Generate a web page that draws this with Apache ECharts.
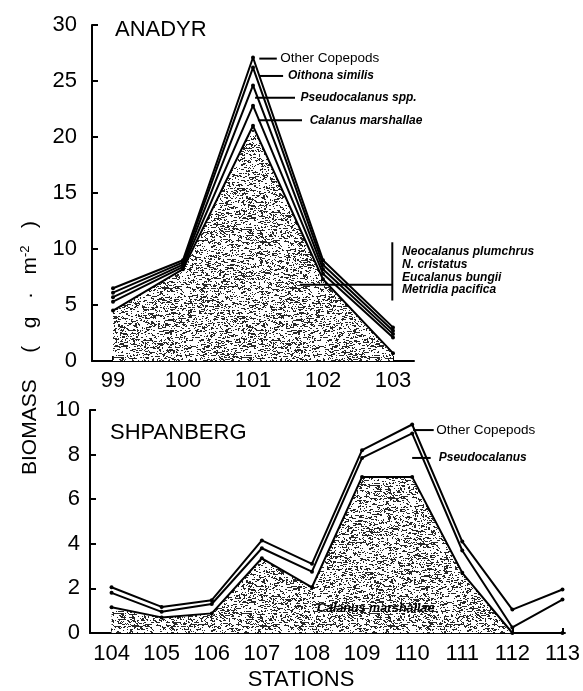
<!DOCTYPE html>
<html>
<head>
<meta charset="utf-8">
<script src="https://cdn.jsdelivr.net/npm/echarts@6/dist/echarts.min.js"></script>
<style>
  html, body { margin: 0; padding: 0; background: #fff; }
  #chart { width: 583px; height: 691px; }
</style>
</head>
<body>
<div id="chart"></div>
<script>
// ---- Anadyr transect (stations 99-103), biomass g·m-2 per taxon ----
const stationsA = [99, 100, 101, 102, 103];
const neocalanusA = [4.5, 8.2, 21.0, 7.3, 0.7];   // Neocalanus plumchrus, N. cristatus, Eucalanus bungii, Metridia pacifica
const calanusA    = [0.8, 0.2, 1.8, 0.5, 1.4];    // Calanus marshallae
const pseudoA     = [0.4, 0.2, 1.8, 0.4, 0.3];    // Pseudocalanus spp.
const oithonaA    = [0.4, 0.2, 1.6, 0.4, 0.3];    // Oithona similis
const otherA      = [0.4, 0.2, 0.9, 0.4, 0.3];    // Other copepods

// ---- Shpanberg transect (stations 104-113) ----
const stationsS = [104, 105, 106, 107, 108, 109, 110, 111, 112, 113];
const calanusS = [1.15, 0.7, 0.88, 3.35, 2.05, 7.0, 7.0, 2.7, 0, 0];
const pseudoS  = [0.65, 0.25, 0.42, 0.45, 0.7, 0.85, 1.95, 1.0, 0.25, 1.5];
const otherS   = [0.25, 0.22, 0.17, 0.35, 0.35, 0.35, 0.4, 0.4, 0.8, 0.45];

// y-axis ranges / tick steps
const yMaxA = 30, yStepA = 5;
const yMaxS = 10, yStepS = 2;

const FONT = 'Liberation Sans';

// Stippled fill for the shaded biomass band
function stipplePattern() {
  const n = 128;
  const c = document.createElement('canvas');
  c.width = n; c.height = n;
  const g = c.getContext('2d');
  const img = g.createImageData(n, n);
  let s = 20240611;
  const next = () => { s = (s * 1103515245 + 12345) & 0x7fffffff; return s / 0x7fffffff; };
  for (let y = 0; y < n; y++) {
    let prev = false;
    for (let x = 0; x < n; x++) {
      const p = prev ? 0.52 : 0.2;
      const dark = next() < p;
      prev = dark;
      const v = dark ? 40 : 255;
      const k = (y * n + x) * 4;
      img.data[k] = img.data[k + 1] = img.data[k + 2] = v;
      img.data[k + 3] = 255;
    }
  }
  g.putImageData(img, 0, 0);
  return { image: c, repeat: 'repeat' };
}
const shade = stipplePattern();

// running totals: each line marks the cumulative biomass up to that taxon
function cumulative(layers) {
  const out = [];
  let acc = layers[0].map(() => 0);
  layers.forEach(l => {
    acc = acc.map((v, i) => +(v + l[i]).toFixed(3));
    out.push(acc);
  });
  return out;
}
const cumA = cumulative([neocalanusA, calanusA, pseudoA, oithonaA, otherA]);
const cumS = cumulative([calanusS, pseudoS, otherS]);

const pairs = (xs, ys) => xs.map((x, i) => [x, ys[i]]);

function lineSeries(name, xs, ys, idx, filled) {
  const s = {
    name, type: 'line', xAxisIndex: idx, yAxisIndex: idx,
    data: pairs(xs, ys),
    symbol: 'circle', symbolSize: 4, showSymbol: true,
    itemStyle: { color: '#000' },
    lineStyle: { color: '#000', width: 2 },
    emphasis: { disabled: true },
    z: filled ? 2 : 3
  };
  if (filled) s.areaStyle = { color: shade, opacity: 1 };
  return s;
}

const axisLine = { show: true, lineStyle: { color: '#000', width: 2 } };
const labelStyle = { color: '#000', fontFamily: FONT, fontSize: 22 };

const chart = echarts.init(document.getElementById('chart'), null, { renderer: 'canvas' });

const namesA = ['Neocalanus group', 'Calanus marshallae', 'Pseudocalanus spp.', 'Oithona similis', 'Other Copepods'];
const namesS = ['Calanus marshallae', 'Pseudocalanus', 'Other Copepods'];

chart.setOption({
  animation: false,
  backgroundColor: '#fff',
  grid: [
    { left: 92, top: 25, width: 322, height: 336 },
    { left: 90, top: 410, width: 481, height: 223 }
  ],
  xAxis: [
    {
      type: 'value', gridIndex: 0, min: 98.7, max: 103.3,
      axisLine, splitLine: { show: false },
      axisTick: { show: true, inside: true, length: 5, customValues: stationsA, lineStyle: { color: '#000', width: 2 } },
      axisLabel: { ...labelStyle, margin: 9, customValues: stationsA }
    },
    {
      type: 'value', gridIndex: 1, min: 103.57, max: 113.05,
      axisLine, splitLine: { show: false },
      axisTick: { show: true, inside: true, length: 5, customValues: stationsS, lineStyle: { color: '#000', width: 2 } },
      axisLabel: { ...labelStyle, margin: 10, customValues: stationsS }
    }
  ],
  yAxis: [
    {
      type: 'value', gridIndex: 0, min: 0, max: yMaxA, interval: yStepA,
      axisLine, splitLine: { show: false },
      axisTick: { show: true, inside: true, length: 6, lineStyle: { color: '#000', width: 2 } },
      axisLabel: { ...labelStyle, margin: 15 }
    },
    {
      type: 'value', gridIndex: 1, min: 0, max: yMaxS, interval: yStepS,
      axisLine, splitLine: { show: false },
      axisTick: { show: true, inside: true, length: 6, lineStyle: { color: '#000', width: 2 } },
      axisLabel: { ...labelStyle, margin: 10 }
    }
  ],
  series: [
    ...cumA.map((ys, k) => lineSeries(namesA[k], stationsA, ys, 0, k === 0)),
    ...cumS.map((ys, k) => lineSeries(namesS[k], stationsS, ys, 1, k === 0))
  ]
});

// ---- annotations, anchored in data units of each panel ----
const toPx = (grid, x, y) => chart.convertToPixel({ gridIndex: grid }, [x, y]);
const g = [];
const seg = (grid, x1, y1, x2, y2) => {
  const a = toPx(grid, x1, y1), b = toPx(grid, x2, y2);
  g.push({ type: 'line', shape: { x1: a[0], y1: a[1], x2: b[0], y2: b[1] },
           style: { stroke: '#000', lineWidth: 2 }, z: 10 });
};
const txt = (grid, x, y, text, font, align) => {
  const p = toPx(grid, x, y);
  g.push({ type: 'text', x: p[0], y: p[1], z: 10,
           style: { text, font, fill: '#000', align: align || 'left', verticalAlign: 'middle' } });
};
const small = 'normal 500 13.5px ' + FONT;
const ital = 'italic bold 12px ' + FONT;

// Anadyr taxon pointers
seg(0, 101.09, 27.0, 101.34, 27.0);   txt(0, 101.39, 27.0, 'Other Copepods', small);
seg(0, 101.10, 25.45, 101.43, 25.45); txt(0, 101.50, 25.45, 'Oithona similis', ital);
seg(0, 101.03, 23.5, 101.60, 23.5);   txt(0, 101.68, 23.5, 'Pseudocalanus spp.', ital);
seg(0, 101.07, 21.5, 101.70, 21.5);   txt(0, 101.81, 21.5, 'Calanus marshallae', ital);
seg(0, 101.67, 6.8, 102.99, 6.8);
seg(0, 102.99, 10.6, 102.99, 5.4);
txt(0, 103.13, 9.75, 'Neocalanus plumchrus', ital);
txt(0, 103.13, 8.62, 'N. cristatus', ital);
txt(0, 103.13, 7.48, 'Eucalanus bungii', ital);
txt(0, 103.13, 6.34, 'Metridia pacifica', ital);

// Shpanberg taxon pointers
seg(1, 110.02, 9.1, 110.43, 9.1);   txt(1, 110.48, 9.1, 'Other Copepods', small);
seg(1, 110.0, 7.85, 110.37, 7.85);  txt(1, 110.53, 7.85, 'Pseudocalanus', ital);
txt(1, 108.1, 1.08, 'Calanus marshallae', 'italic bold 12.5px ' + FONT);

// panel titles and axis titles
g.push({ type: 'text', x: 115, y: 30, style: { text: 'ANADYR', font: '22px ' + FONT, fill: '#000', verticalAlign: 'middle' } });
g.push({ type: 'text', x: 110, y: 433, style: { text: 'SHPANBERG', font: '22px ' + FONT, fill: '#000', verticalAlign: 'middle' } });
g.push({ type: 'text', x: 301, y: 680, style: { text: 'STATIONS', font: '22px ' + FONT, fill: '#000', align: 'center', verticalAlign: 'middle' } });
g.push({
  type: 'text', x: 30, y: 348, rotation: Math.PI / 2,
  style: {
    text: '{a|BIOMASS}        {a|(   g   ·   m}{s|-2}{a|   )}',
    fill: '#000', align: 'center', verticalAlign: 'middle',
    rich: {
      a: { font: '21px ' + FONT, fill: '#000' },
      s: { font: '13px ' + FONT, fill: '#000', padding: [0, 0, 10, 0] }
    }
  }
});

chart.setOption({ graphic: g });
</script>
</body>
</html>
